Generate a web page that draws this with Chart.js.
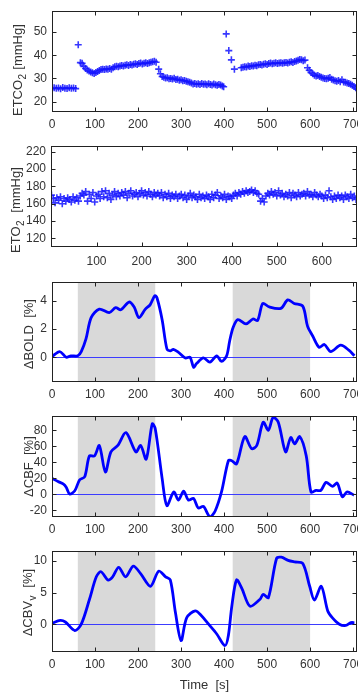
<!DOCTYPE html>
<html>
<head>
<meta charset="utf-8">
<script src="https://cdn.jsdelivr.net/npm/chart.js@4.4.0/dist/chart.umd.min.js"></script>
<style>
  html, body { margin: 0; padding: 0; width: 358px; height: 692px; overflow: hidden; background: #fff; }
  canvas { position: absolute; left: 0; }
  #xtitle { position: absolute; left: 52px; width: 305px; top: 677px; text-align: center;
            font: 13px "Liberation Sans", Arial, sans-serif; color: #333; line-height: 16px; white-space: pre; }
</style>
</head>
<body>
<canvas id="etco2Chart" width="380" height="137" style="top:-1px"></canvas>
<canvas id="eto2Chart" width="380" height="137" style="top:134px"></canvas>
<canvas id="boldChart" width="380" height="136" style="top:270px"></canvas>
<canvas id="cbfChart" width="380" height="137" style="top:404px"></canvas>
<canvas id="cbvChart" width="380" height="137" style="top:539px"></canvas>
<div id="xtitle">Time  [s]</div>
<script>
// stimulus blocks (s)
const stimBlocks = [[60, 240], [420, 600]];

const timeTicks = [0, 100, 200, 300, 400, 500, 600, 700];
const eto2TimeTicks = [100, 200, 300, 400, 500, 600];
const etco2Ticks = [20, 30, 40, 50];
const eto2Ticks = [120, 140, 160, 180, 200, 220];
const boldTicks = [0, 2, 4];
const cbfTicks = [-20, 0, 20, 40, 60, 80];
const cbvTicks = [0, 5, 10];

// end-tidal CO2 [time s, mmHg]
const etco2Samples = [
  [0, 25.6], [5, 26.0], [10, 25.7], [15, 25.9], [20, 25.5], [25, 26.1], [30, 25.8], [35, 25.6], [40, 26.0], [45, 25.7], [50, 25.9], [55, 25.6],
  [61, 44.5],
  [66, 36.8], [70, 36.5], [74, 35.2], [78, 34.3], [82, 33.6], [86, 33.2], [90, 32.8], [94, 32.4], [98, 32.1],
  [102, 32.5], [106, 33.0], [110, 33.4], [114, 33.8], [118, 34.0], [122, 33.8], [126, 34.1], [130, 33.9], [134, 34.3], [138, 34.0],
  [142, 34.6], [146, 35.0], [150, 35.2], [154, 35.0], [158, 35.4], [162, 35.6], [166, 35.3], [170, 35.7], [174, 35.9], [178, 35.6],
  [182, 36.0], [186, 35.8], [190, 36.1], [194, 36.3], [198, 36.0], [202, 36.4], [206, 36.6], [210, 36.2], [214, 36.5], [218, 36.8],
  [222, 36.4], [226, 36.7], [230, 37.0], [234, 37.2], [238, 37.4], [242, 37.0],
  [248, 34.0], [252, 32.0], [256, 30.8], [260, 30.5], [264, 30.2], [268, 30.3], [272, 29.9], [276, 30.0], [280, 29.7], [284, 30.1],
  [288, 29.5], [292, 29.6], [296, 29.2], [300, 29.4], [304, 29.0], [308, 29.1], [312, 28.8], [316, 28.6], [320, 28.3], [324, 28.0],
  [328, 27.6], [332, 27.8], [336, 27.5], [340, 27.7], [344, 27.4], [348, 27.8], [352, 27.5], [356, 27.6], [360, 27.3], [364, 27.7],
  [368, 27.4], [372, 27.2], [376, 27.6], [380, 27.3], [384, 27.0], [388, 27.4], [392, 27.1], [396, 26.7], [399, 26.4],
  [405, 49.2], [411, 42.0], [417, 38.0], [424, 34.0],
  [440, 34.6], [444, 34.8], [448, 35.0], [452, 34.9], [456, 35.3], [460, 35.1], [464, 35.5], [468, 35.4], [472, 35.7], [476, 35.5],
  [480, 35.9], [484, 36.0], [488, 35.8], [492, 36.1], [496, 36.3], [500, 36.0], [504, 36.4], [508, 36.6], [512, 36.3], [516, 36.5],
  [520, 36.7], [524, 36.4], [528, 36.6], [532, 36.8], [536, 36.5], [540, 36.7], [544, 36.9], [548, 36.6], [552, 37.0], [556, 37.2],
  [560, 36.9], [564, 37.3], [568, 37.5], [572, 37.8], [576, 38.2], [580, 38.0], [584, 37.6], [588, 37.9],
  [594, 34.6], [598, 33.5], [602, 32.6], [606, 32.0], [610, 31.4], [614, 31.0], [618, 31.3], [622, 30.8], [626, 30.5], [630, 30.2],
  [634, 30.0], [638, 29.8], [642, 30.1], [646, 30.4], [650, 29.6], [654, 29.3], [658, 29.0], [662, 28.8], [666, 29.1], [670, 28.6],
  [674, 29.4], [678, 28.5], [682, 28.3], [686, 28.0], [690, 27.8], [694, 27.5], [698, 27.0], [702, 26.5], [706, 26.0], [710, 25.4]
];

// end-tidal O2, sampled every 4 s from t = 0
const eto2Step = 4;
const eto2Values = [
  170, 166, 161, 167, 164, 168, 160, 166, 163, 167,
  165, 162, 168, 164, 167, 163, 169, 172, 170, 174,
  163, 171, 166, 173, 162, 169, 171, 166, 174, 168,
  175, 167, 172, 165, 170, 174, 168, 172, 169, 173,
  170, 174, 167, 172, 175, 169, 171, 173, 168, 172,
  175, 170, 173, 169, 174, 171, 168, 173, 170, 172,
  169, 173, 167, 171, 168, 172, 166, 170, 168, 171,
  166, 169, 171, 167, 170, 165, 169, 172, 167, 170,
  168, 165, 171, 167, 169, 166, 170, 168, 165, 171,
  167, 170, 173, 166, 169, 167, 171, 165, 169, 168,
  166, 170, 172, 169, 173, 171, 174, 172, 175, 173,
  174, 176, 173, 175, 172, 171, 163, 166, 162, 169,
  172, 170, 174, 171, 173, 169, 175, 170, 172, 168,
  171, 169, 173, 167, 172, 170, 168, 173, 169, 171,
  172, 169, 174, 170, 171, 168, 173, 170, 168, 171,
  169, 166, 170, 167, 175, 168, 165, 169, 166, 170,
  167, 169, 165, 170, 168, 166, 171, 167, 169, 165
];

// BOLD change [time s, %]
const boldSamples = [
  [0, 0.05], [18, 0.4], [33, 0.0], [44, 0.1], [60, 0.1], [68, 0.4], [79, 1.3], [91, 2.8], [110, 3.4], [133, 3.15],
  [148, 3.5], [160, 3.35], [179, 3.9], [191, 3.55], [202, 2.8], [217, 3.4], [228, 3.7], [239, 4.35], [244, 4.2], [256, 2.65],
  [267, 0.6], [275, 0.45], [282, 0.55], [294, 0.35], [310, -0.05], [321, 0.0], [329, -0.7], [336, -0.45], [352, -0.05], [367, -0.35],
  [383, 0.1], [394, -0.3], [406, 0.1], [413, 1.15], [421, 2.1], [432, 2.65], [451, 2.35], [467, 2.7], [478, 2.6], [490, 3.8],
  [505, 3.55], [532, 3.45], [548, 4.05], [563, 3.8], [583, 3.6], [594, 2.2], [606, 1.5], [621, 0.7], [633, 0.9], [648, 0.4],
  [671, 0.85], [690, 0.5], [703, 0.1]
];

// CBF change [time s, %]
const cbfSamples = [
  [0, 20], [14, 16], [26, 13], [33, 9], [41, 0.5], [53, 4.5], [64, 18], [76, 22], [87, 48], [99, 48],
  [110, 61], [124, 28], [137, 53], [153, 61], [172, 77], [195, 53], [206, 61], [219, 44], [233, 88], [240, 82],
  [256, 20], [267, -14], [283, 3], [294, -7], [306, 4], [317, -7], [329, -5], [340, -17], [352, -15], [367, -28],
  [379, -21], [394, 3], [410, 42], [418, 42], [429, 38], [448, 72], [464, 57], [476, 61], [491, 90], [503, 80],
  [514, 96], [526, 90], [543, 53], [555, 71], [564, 63], [576, 72], [591, 48], [602, 3], [614, 5], [625, 5],
  [637, 15], [652, 10], [663, 14], [675, -3], [686, 3], [702, -1]
];

// venous CBV change [time s, %]
const cbvSamples = [
  [0, 0.15], [19, 0.6], [31, 0.35], [53, -1.0], [68, 0.0], [87, 3.9], [103, 7.5], [114, 8.3], [130, 7.0], [141, 7.5],
  [155, 9.0], [171, 7.5], [189, 9.2], [206, 8.0], [229, 6.0], [248, 8.4], [264, 7.5], [275, 7.0], [287, 1.8], [300, -2.6],
  [313, 1.0], [333, 2.1], [348, 1.3], [364, 0.0], [383, -1.55], [402, -3.4], [410, -1.8], [418, 2.85], [429, 7.0], [441, 5.7],
  [460, 2.85], [483, 3.9], [491, 4.7], [503, 4.2], [522, 10.4], [533, 10.6], [549, 10.1], [564, 9.85], [583, 9.6], [599, 6.0],
  [610, 3.8], [626, 6.0], [641, 2.1], [652, 1.0], [668, 0.0], [683, -0.2], [695, 0.25], [703, 0.25]
];

const FONT = '"Liberation Sans", Arial, Helvetica, sans-serif';
const INK = '#333';

const toPoints = arr => arr.map(([t, v]) => ({ x: t, y: v }));

// shading, zero line, box with inward ticks, y title
const frame = {
  id: 'frame',
  beforeDatasetsDraw(chart, args, opts) {
    const { ctx, chartArea: a, scales: { x, y } } = chart;
    ctx.save();
    ctx.beginPath();
    ctx.rect(a.left, a.top, a.right - a.left, a.bottom - a.top);
    ctx.clip();
    if (opts.blocks) {
      ctx.fillStyle = '#d9d9d9';
      opts.blocks.forEach(([s, e]) => {
        const x0 = x.getPixelForValue(s), x1 = x.getPixelForValue(e);
        ctx.fillRect(x0, a.top, x1 - x0, a.bottom - a.top);
      });
    }
    if (opts.zeroLine) {
      const yy = Math.round(y.getPixelForValue(0)) + 0.5;
      ctx.strokeStyle = '#3c3cff';
      ctx.lineWidth = 1;
      ctx.beginPath();
      ctx.moveTo(a.left, yy);
      ctx.lineTo(a.right, yy);
      ctx.stroke();
    }
    ctx.restore();
  },
  afterDatasetsDraw(chart, args, opts) {
    const { ctx, chartArea: a, scales: { x, y } } = chart;
    const L = Math.round(a.left) + 0.5, R = Math.round(a.right) - 0.5;
    const T = Math.round(a.top) + 0.5, B = Math.round(a.bottom) - 0.5;
    ctx.save();
    ctx.strokeStyle = '#222';
    ctx.lineWidth = 1;
    ctx.strokeRect(L, T, R - L, B - T);
    ctx.beginPath();
    x.ticks.forEach(t => {
      const px = Math.round(x.getPixelForValue(t.value)) + 0.5;
      ctx.moveTo(px, B); ctx.lineTo(px, B - 4);
      ctx.moveTo(px, T); ctx.lineTo(px, T + 4);
    });
    y.ticks.forEach(t => {
      const py = Math.round(y.getPixelForValue(t.value)) + 0.5;
      ctx.moveTo(L, py); ctx.lineTo(L + 4, py);
      ctx.moveTo(R, py); ctx.lineTo(R - 4, py);
    });
    ctx.stroke();

    // rotated y title with optional subscript; tt.x is the page x of the baseline
    const tt = opts.title;
    if (tt) {
      const cy = (a.top + a.bottom) / 2 + (tt.dy || 0);
      ctx.translate(tt.x, cy);
      ctx.rotate(-Math.PI / 2);
      ctx.fillStyle = INK;
      ctx.textBaseline = 'alphabetic';
      ctx.textAlign = 'left';
      const mainFont = '13px ' + FONT, subFont = '10px ' + FONT;
      ctx.font = mainFont;
      const w1 = ctx.measureText(tt.main).width;
      const w3 = tt.rest ? ctx.measureText(tt.rest).width : 0;
      ctx.font = subFont;
      const w2 = tt.sub ? ctx.measureText(tt.sub).width : 0;
      let px = -(w1 + w2 + w3) / 2;
      ctx.font = mainFont;
      ctx.fillText(tt.main, px, 0);
      px += w1;
      if (tt.sub) {
        ctx.font = subFont;
        ctx.fillText(tt.sub, px + 0.5, 4);
        px += w2 + 1;
      }
      if (tt.rest) {
        ctx.font = mainFont;
        ctx.fillText(tt.rest, px, 0);
      }
    }
    ctx.restore();
  }
};

function makeChart(id, datasets, o) {
  return new Chart(document.getElementById(id), {
    type: 'scatter',
    data: { datasets },
    options: {
      responsive: false,
      animation: false,
      events: [],
      layout: { padding: { top: 10, right: 23, left: 0, bottom: 0 } },
      plugins: {
        legend: { display: false },
        tooltip: { enabled: false },
        frame: { blocks: o.blocks, zeroLine: o.zeroLine, title: o.title }
      },
      scales: {
        x: {
          type: 'linear',
          min: o.xMin, max: o.xMax,
          afterBuildTicks: s => { s.ticks = o.xTicks.map(v => ({ value: v })); },
          afterFit: s => { s.height = 24; },
          grid: { display: false, drawTicks: false },
          border: { display: false },
          ticks: { padding: o.xPad || 5, color: INK, font: { family: FONT, size: 12 }, autoSkip: false, maxRotation: 0 }
        },
        y: {
          type: 'linear',
          min: o.yMin, max: o.yMax,
          afterBuildTicks: s => { s.ticks = o.yTicks.map(v => ({ value: v })); },
          afterFit: s => { s.width = o.yWidth || 52; },
          grid: { display: false, drawTicks: false },
          border: { display: false },
          ticks: { padding: 5, color: INK, font: { family: FONT, size: 12 } }
        }
      }
    },
    plugins: [frame]
  });
}

const markerStyle = {
  showLine: false,
  pointStyle: 'cross',
  pointRadius: 3.5,
  borderWidth: 1.6,
  borderColor: 'rgba(20,20,255,0.85)',
  backgroundColor: 'rgba(20,20,255,0.85)'
};

const lineStyle = {
  showLine: true,
  pointRadius: 0,
  borderWidth: 2.8,
  borderColor: '#0000ff',
  tension: 0.3,
  fill: false
};

makeChart('etco2Chart',
  [Object.assign({ data: toPoints(etco2Samples) }, markerStyle)],
  { xMin: 0, xMax: 709, xTicks: timeTicks, yMin: 15.5, yMax: 59, yTicks: etco2Ticks,
    title: { main: 'ETCO', sub: '2', rest: ' [mmHg]', x: 22, dy: 9 } });

makeChart('eto2Chart',
  [Object.assign({ data: eto2Values.map((v, i) => ({ x: i * eto2Step, y: v })) }, markerStyle)],
  { xMin: -1, xMax: 678, xTicks: eto2TimeTicks, yMin: 110, yMax: 226.5, yTicks: eto2Ticks, yWidth: 51, xPad: 7,
    title: { main: 'ETO', sub: '2', rest: '  [mmHg]', x: 19.5, dy: 14 } });

makeChart('boldChart',
  [Object.assign({ data: toPoints(boldSamples) }, lineStyle)],
  { xMin: 0, xMax: 709, xTicks: timeTicks, yMin: -1.75, yMax: 5.3, yTicks: boldTicks,
    blocks: stimBlocks, zeroLine: true,
    title: { main: '\u0394BOLD  [%]', x: 33, dy: 2 } });

makeChart('cbfChart',
  [Object.assign({ data: toPoints(cbfSamples) }, lineStyle)],
  { xMin: 0, xMax: 709, xTicks: timeTicks, yMin: -28.2, yMax: 97.5, yTicks: cbfTicks,
    blocks: stimBlocks, zeroLine: true,
    title: { main: '\u0394CBF  [%]', x: 33, dy: 0 } });

makeChart('cbvChart',
  [Object.assign({ data: toPoints(cbvSamples) }, lineStyle)],
  { xMin: 0, xMax: 709, xTicks: timeTicks, yMin: -4.4, yMax: 11.55, yTicks: cbvTicks,
    blocks: stimBlocks, zeroLine: true,
    title: { main: '\u0394CBV', sub: 'v', rest: '  [%]', x: 32, dy: 1.5 } });
</script>
</body>
</html>
